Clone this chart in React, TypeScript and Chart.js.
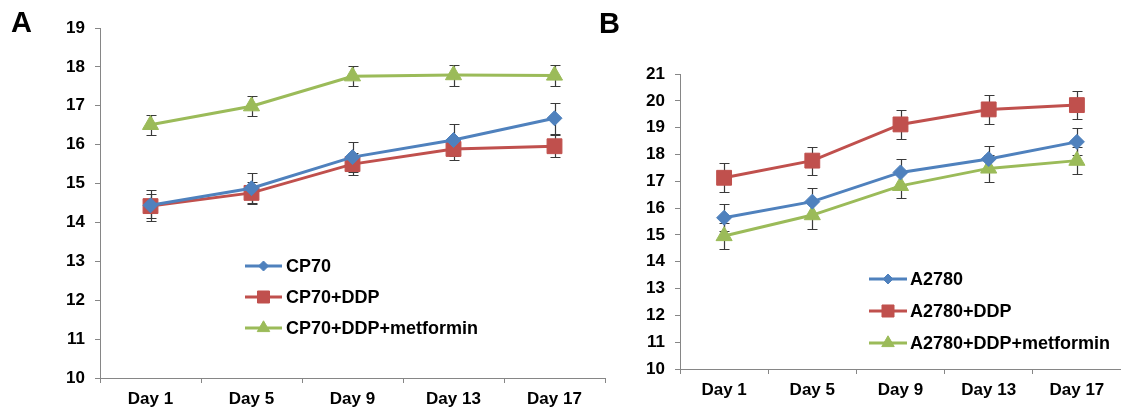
import React, { useEffect, useRef } from 'react';
import { Chart, registerables } from 'chart.js';
import { drawPoint } from 'chart.js/helpers';

Chart.register(...registerables);

// ---------- data ----------
const days = ['Day 1', 'Day 5', 'Day 9', 'Day 13', 'Day 17'];

const cp70 = [14.44, 14.88, 15.68, 16.12, 16.68];
const cp70Ddp = [14.42, 14.76, 15.5, 15.89, 15.96];
const cp70DdpMet = [16.51, 16.99, 17.76, 17.79, 17.78];
const cp70Err = [0.4, 0.4, 0.38, 0.4, 0.4];
const cp70DdpErr = [0.31, 0.27, 0.29, 0.28, 0.29];
const cp70DdpMetErr = [0.26, 0.26, 0.26, 0.27, 0.27];

const a2780 = [15.64, 16.24, 17.33, 17.83, 18.47];
const a2780Ddp = [17.13, 17.77, 19.12, 19.68, 19.84];
const a2780DdpMet = [14.96, 15.74, 16.83, 17.48, 17.77];
const a2780Err = [0.5, 0.5, 0.5, 0.5, 0.5];
const a2780DdpErr = [0.54, 0.52, 0.53, 0.55, 0.53];
const a2780DdpMetErr = [0.5, 0.52, 0.47, 0.5, 0.5];

const labelsA = ['CP70', 'CP70+DDP', 'CP70+DDP+metformin'];
const labelsB = ['A2780', 'A2780+DDP', 'A2780+DDP+metformin'];

// ---------- style ----------
const BLUE = '#4F81BD';
const RED = '#C0504D';
const GREEN = '#9BBB59';
const AXIS = '#868686';
const FONT = "'Liberation Sans', Arial, sans-serif";

const styles = [
  { color: BLUE, pointStyle: 'rectRot', radius: 7.5, legendRadius: 5 },
  { color: RED, pointStyle: 'rect', radius: 10.5, legendRadius: 8.5 },
  { color: GREEN, pointStyle: 'triangle', radius: 9.3, legendRadius: 7.2 },
];

const errorBarPlugin = {
  id: 'errorBars',
  beforeDatasetsDraw(chart: any) {
    const ctx = chart.ctx;
    const ys = chart.scales.y;
    ctx.save();
    ctx.strokeStyle = '#3a3a3a';
    ctx.lineWidth = 1.2;
    chart.data.datasets.forEach((ds: any, i: number) => {
      const meta = chart.getDatasetMeta(i);
      meta.data.forEach((pt: any, j: number) => {
        const v = ds.data[j];
        const e = ds.errors[j];
        const top = Math.round(ys.getPixelForValue(v + e)) + 0.5;
        const bot = Math.round(ys.getPixelForValue(v - e)) + 0.5;
        const x = Math.round(pt.x) + 0.5;
        ctx.beginPath();
        ctx.moveTo(x, top);
        ctx.lineTo(x, bot);
        ctx.moveTo(x - 5, top);
        ctx.lineTo(x + 5, top);
        ctx.moveTo(x - 5, bot);
        ctx.lineTo(x + 5, bot);
        ctx.stroke();
      });
    });
    ctx.restore();
  },
};

const insideLegendPlugin = {
  id: 'insideLegend',
  afterDraw(chart: any, _args: any, opts: any) {
    const ctx = chart.ctx;
    ctx.save();
    chart.data.datasets.forEach((ds: any, i: number) => {
      const y = opts.rows[i];
      const st = styles[i];
      ctx.strokeStyle = st.color;
      ctx.lineWidth = 3;
      ctx.beginPath();
      ctx.moveTo(opts.x0, y);
      ctx.lineTo(opts.x1, y);
      ctx.stroke();
      ctx.fillStyle = st.color;
      ctx.strokeStyle = st.color;
      ctx.lineWidth = 1;
      drawPoint(ctx, { pointStyle: st.pointStyle, radius: st.legendRadius, rotation: 0, borderWidth: 1 } as any, (opts.x0 + opts.x1) / 2, y);
      ctx.fillStyle = '#000';
      ctx.font = `bold 18px ${FONT}`;
      ctx.textBaseline = 'middle';
      ctx.textAlign = 'left';
      ctx.fillText(ds.label, opts.textX, y + 1);
    });
    ctx.restore();
  },
};

type PanelProps = {
  width: number;
  height: number;
  left: number;
  area: { left: number; top: number; right: number; bottom: number };
  yMin: number;
  yMax: number;
  labels: string[];
  values: number[][];
  errors: number[][];
  legend: { x0: number; x1: number; textX: number; rows: number[] };
};

function Panel(p: PanelProps) {
  const ref = useRef<HTMLCanvasElement | null>(null);
  useEffect(() => {
    if (!ref.current) return;
    const tickFont = { family: FONT, size: 17, weight: 'bold' as const };
    const chart = new Chart(ref.current, {
      type: 'line',
      data: {
        labels: days,
        datasets: p.values.map((vals, i) => ({
          label: p.labels[i],
          data: vals,
          errors: p.errors[i],
          borderColor: styles[i].color,
          backgroundColor: styles[i].color,
          borderWidth: 3,
          pointStyle: styles[i].pointStyle,
          pointRadius: styles[i].radius,
          pointBackgroundColor: styles[i].color,
          pointBorderColor: styles[i].color,
          pointBorderWidth: 1,
          tension: 0,
          fill: false,
          clip: false,
        })) as any,
      },
      options: {
        responsive: false,
        animation: false,
        devicePixelRatio: 1,
        events: [],
        layout: {
          autoPadding: false,
          padding: { left: 0, top: p.area.top, right: p.width - p.area.right, bottom: 0 },
        },
        plugins: {
          legend: { display: false },
          tooltip: { enabled: false },
          insideLegend: p.legend,
        } as any,
        scales: {
          x: {
            type: 'category',
            offset: true,
            grid: { display: true, drawOnChartArea: false, drawTicks: true, tickLength: 5, color: AXIS, offset: true },
            border: { display: true, color: AXIS, width: 1 },
            ticks: { color: '#000', font: tickFont, padding: 6, maxRotation: 0, autoSkip: false },
            afterFit: (s: any) => {
              s.height = p.height - p.area.bottom;
              s.paddingLeft = 0;
              s.paddingRight = 0;
            },
          },
          y: {
            min: p.yMin,
            max: p.yMax,
            grid: { display: true, drawOnChartArea: false, drawTicks: true, tickLength: 5, color: AXIS },
            border: { display: true, color: AXIS, width: 1 },
            ticks: { stepSize: 1, color: '#000', font: tickFont, padding: 10 },
            afterFit: (s: any) => {
              s.width = p.area.left;
            },
          },
        },
      },
      plugins: [errorBarPlugin, insideLegendPlugin],
    });
    return () => chart.destroy();
  }, []);
  return (
    <canvas
      ref={ref}
      width={p.width}
      height={p.height}
      style={{ position: 'absolute', left: p.left, top: 0, width: p.width, height: p.height }}
    />
  );
}

const panelLabel: React.CSSProperties = {
  position: 'absolute',
  fontFamily: FONT,
  fontWeight: 'bold',
  fontSize: 29,
  lineHeight: '29px',
  color: '#000',
};

export default function App() {
  return (
    <div style={{ position: 'fixed', left: 0, top: 0, width: 1121, height: 417, background: '#fff', overflow: 'hidden' }}>
      <Panel
        width={612}
        height={417}
        left={0}
        area={{ left: 100, top: 28, right: 605, bottom: 378 }}
        yMin={10}
        yMax={19}
        labels={labelsA}
        values={[cp70, cp70Ddp, cp70DdpMet]}
        errors={[cp70Err, cp70DdpErr, cp70DdpMetErr]}
        legend={{ x0: 245, x1: 282, textX: 286, rows: [266, 297, 328] }}
      />
      <Panel
        width={509}
        height={417}
        left={612}
        area={{ left: 68, top: 74, right: 509, bottom: 369 }}
        yMin={10}
        yMax={21}
        labels={labelsB}
        values={[a2780, a2780Ddp, a2780DdpMet]}
        errors={[a2780Err, a2780DdpErr, a2780DdpMetErr]}
        legend={{ x0: 257, x1: 295, textX: 298, rows: [279, 311, 343] }}
      />
      <div style={{ ...panelLabel, left: 11, top: 8 }}>A</div>
      <div style={{ ...panelLabel, left: 599, top: 9 }}>B</div>
    </div>
  );
}
